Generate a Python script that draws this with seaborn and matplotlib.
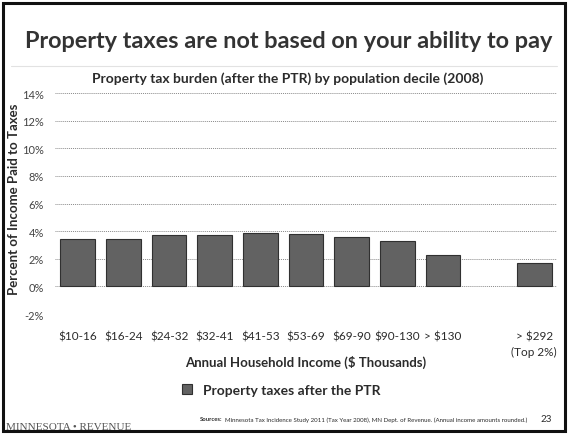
import numpy as np
import pandas as pd
import matplotlib
matplotlib.use("Agg")
import matplotlib.pyplot as plt
from matplotlib.patches import Rectangle
from matplotlib.lines import Line2D
import seaborn as sns

# Income brackets (population deciles plus the top 2%), blank slot before the top group
categories = ["$10-16", "$16-24", "$24-32", "$32-41", "$41-53",
              "$53-69", "$69-90", "$90-130", "> $130", " ", "> $292\n(Top 2%)"]
bar_categories = ["$10-16", "$16-24", "$24-32", "$32-41", "$41-53",
                  "$53-69", "$69-90", "$90-130", "> $130", "> $292\n(Top 2%)"]
tax_share = [3.4, 3.4, 3.75, 3.75, 3.85, 3.8, 3.6, 3.3, 2.25, 1.7]
y_ticks = [-2, 0, 2, 4, 6, 8, 10, 12, 14]
y_tick_labels = ["-2%", "0%", "2%", "4%", "6%", "8%", "10%", "12%", "14%"]

sns.set_theme(style="white")
plt.rcParams["font.family"] = ["Lato", "DejaVu Sans"]
plt.rcParams["text.parse_math"] = False

text_color = "#2b2b2b"

df = pd.DataFrame({"bracket": bar_categories, "share": tax_share})

fig = plt.figure(figsize=(5.68, 4.35), dpi=100)
ax = fig.add_axes([55 / 568, 1 - 315 / 435, 502 / 568, 221 / 435])

sns.barplot(data=df, x="bracket", y="share", order=categories, ax=ax,
            color="#626262", saturation=1, width=0.76,
            edgecolor="#303030", linewidth=0.8,
            label="Property taxes after the PTR", zorder=3)

ax.set_ylim(-2, 14)
ax.set_xlim(-0.5, 10.5)
ax.set_yticks(y_ticks)
ax.set_yticklabels(y_tick_labels, fontsize=8, color="#444444")
ax.set_xticks(range(len(categories)))
ax.set_xticklabels(categories, fontsize=8.5, color=text_color)
ax.tick_params(axis="x", length=0, pad=12)
ax.tick_params(axis="y", length=0, pad=8)
for t in ax.get_xticklabels():
    t.set_linespacing(1.5)

for v in y_ticks:
    ax.axhline(v, color="#8a8a8a", linestyle=(0, (1, 1)), linewidth=0.7, zorder=1)
for s in ax.spines.values():
    s.set_visible(False)

ax.set_ylabel("")
ax.set_xlabel("")
fig.text(14 / 568, 1 - 199 / 435, "Percent of Income Paid to Taxes", rotation=90,
         ha="center", va="center", fontsize=9.5, fontweight="bold", color=text_color)

fig.text(306 / 568, 1 - 362 / 435, "Annual Household Income ($ Thousands)",
         ha="center", va="center", fontsize=9.5, fontweight="bold", color=text_color)

ax.legend(loc="center", bbox_to_anchor=(281 / 568, 1 - 391 / 435),
          bbox_transform=fig.transFigure, frameon=False,
          handlelength=0.7, handleheight=0.7, handletextpad=0.8,
          prop={"weight": "bold", "size": 10})
for t in ax.get_legend().get_texts():
    t.set_color(text_color)

# Headline and chart title
fig.text(289 / 568, 1 - 42 / 435, "Property taxes are not based on your ability to pay",
         ha="center", va="center", fontsize=16.9, fontweight="bold", color="#333333")
fig.add_artist(Line2D([0.02, 0.98], [1 - 67 / 435, 1 - 67 / 435],
                      transform=fig.transFigure, color="#e2e2e2", linewidth=0.8))
fig.text(288 / 568, 1 - 79 / 435,
         "Property tax burden (after the PTR) by population decile (2008)",
         ha="center", va="center", fontsize=10, fontweight="bold", color=text_color)

# Footer
fig.text(222 / 568, 1 - 420 / 435, "Sources:", ha="right", va="center",
         fontsize=4.2, fontweight="bold", color=text_color)
fig.text(225 / 568, 1 - 420 / 435,
         "Minnesota Tax Incidence Study 2011 (Tax Year 2008), MN Dept. of Revenue. "
         "(Annual income amounts rounded.)",
         ha="left", va="center", fontsize=4.4, color=text_color)
fig.text(546 / 568, 1 - 420 / 435, "23", ha="center", va="center",
         fontsize=7, color=text_color)
fig.text(6 / 568, 1 - 428 / 435, "MINNESOTA \u2022 REVENUE", ha="left", va="center",
         fontsize=8, color="#555555", family=["Liberation Serif", "DejaVu Serif"])

# Slide frame
fig.add_artist(Rectangle((0.006, 0.008), 0.988, 0.982, transform=fig.transFigure,
                         fill=False, edgecolor="#111111", linewidth=2.2))

fig.savefig("out.png", dpi=100, facecolor="white")
